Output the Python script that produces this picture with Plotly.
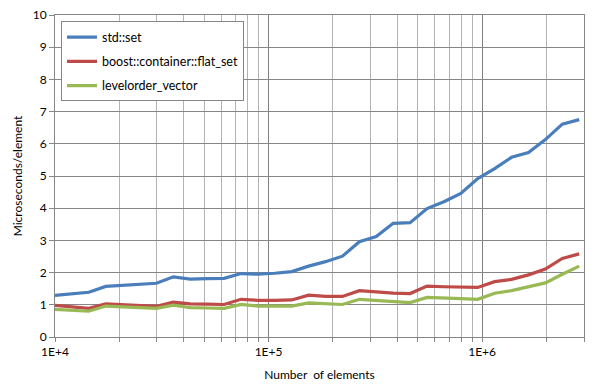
import plotly.graph_objects as go

# Number of elements (each step x1.2)
n_elements = [10000, 12000, 14400, 17280, 20736, 24883, 29860, 35832, 42998, 51598,
              61917, 74301, 89161, 106993, 128392, 154070, 184884, 221861, 266233,
              319480, 383376, 460051, 552061, 662474, 794968, 953962, 1144754,
              1373705, 1648446, 1978135, 2373763, 2848515]

std_set = [1.29, 1.33, 1.39, 1.57, 1.60, 1.64, 1.67, 1.87, 1.80, 1.81,
           1.82, 1.97, 1.95, 1.98, 2.03, 2.20, 2.34, 2.51, 2.96, 3.12,
           3.53, 3.55, 3.99, 4.20, 4.46, 4.92, 5.23, 5.58, 5.73, 6.13,
           6.61, 6.75]

flat_set = [0.98, 0.94, 0.89, 1.03, 1.01, 0.98, 0.95, 1.08, 1.03, 1.02,
            1.01, 1.17, 1.14, 1.14, 1.15, 1.30, 1.26, 1.26, 1.44, 1.40,
            1.36, 1.35, 1.58, 1.56, 1.54, 1.54, 1.72, 1.79, 1.93, 2.11,
            2.44, 2.58]

levelorder = [0.86, 0.83, 0.80, 0.96, 0.94, 0.92, 0.89, 0.99, 0.91, 0.90,
              0.89, 1.01, 0.96, 0.96, 0.96, 1.06, 1.03, 1.01, 1.17, 1.13,
              1.10, 1.07, 1.23, 1.20, 1.19, 1.17, 1.36, 1.44, 1.56, 1.68,
              1.95, 2.20]

series_names = ["std::set", "boost::container::flat_set", "levelorder_vector"]
series_colors = ["#4A7EBB", "#BE4B48", "#98B954"]

x_major = [1e4, 1e5, 1e6]
x_major_text = ["1E+4", "1E+5", "1E+6"]
x_minor = [m * d for d in (1e4, 1e5) for m in range(2, 10)] + [2e6, 3e6]

FONT = "Lato"
fig = go.Figure()
for name, ys, col in zip(series_names, [std_set, flat_set, levelorder], series_colors):
    fig.add_trace(go.Scatter(x=n_elements, y=ys, mode="lines", name=name,
                             legendgroup=name,
                             line=dict(color=col, width=3.2)))

grid_major = "#868686"
fig.update_layout(
    width=606, height=390,
    margin=dict(l=55, r=22, t=15, b=53),
    paper_bgcolor="white", plot_bgcolor="white",
    font=dict(family=FONT, size=12, color="black"),
    showlegend=True,
    legend=dict(x=0.0113, y=0.98, xanchor="left", yanchor="top",
                bgcolor="white", bordercolor="#868686", borderwidth=1,
                tracegroupgap=5, font=dict(family=FONT, size=12.5, color="black")),
    xaxis=dict(type="log", range=[4, 6.4771], automargin=False,
               tickmode="array", tickvals=x_major, ticktext=x_major_text,
               showgrid=True, gridcolor="#808080", gridwidth=1,
               ticks="outside", ticklen=4, tickcolor="#868686",
               showline=True, linecolor="#868686", linewidth=1, mirror=True,
               zeroline=False,
               minor=dict(tickmode="array", tickvals=x_minor, showgrid=True,
                          gridcolor="#B4B4B4", gridwidth=1,
                          ticks="outside", ticklen=4, tickcolor="#868686"),
               title=dict(text="Number  of elements", standoff=12,
                          font=dict(family=FONT, size=12))),
    yaxis=dict(range=[0, 10], dtick=1, tick0=0, automargin=False,
               showgrid=True, gridcolor=grid_major, gridwidth=1,
               ticks="outside", ticklen=5, tickcolor="#868686",
               showline=True, linecolor="#868686", linewidth=1, mirror=True,
               zeroline=False,
               title=dict(text="Microseconds/element", standoff=7,
                          font=dict(family=FONT, size=12))),
)

fig.write_html("out.html", config={"displayModeBar": False},
               post_script="document.body.style.margin='0';")
